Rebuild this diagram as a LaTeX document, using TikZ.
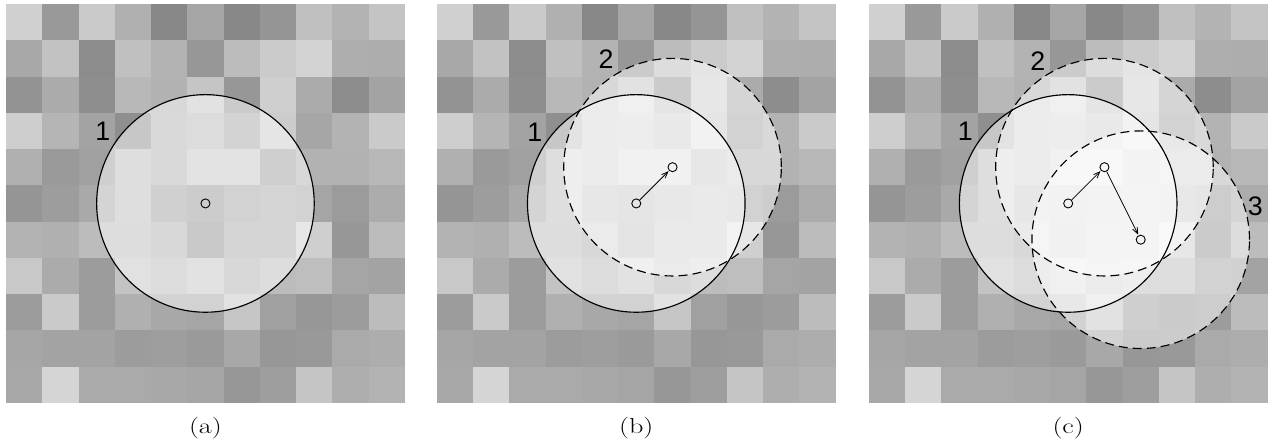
\documentclass[tikz,border=0pt]{standalone}
\usepackage{fontspec}
\newfontfamily\labelfont{Liberation Sans}
\usetikzlibrary{arrows.meta,positioning}

%% window styles
\tikzset{
  winfill/.style={fill=white,fill opacity=0.5},
  winsolid/.style={draw=black,line width=0.9pt},
  windash/.style={draw=black,line width=0.9pt,dash pattern=on 7pt off 4pt},
  centre/.style={circle,draw=black,line width=0.7pt,minimum size=0.25cm,inner sep=0pt},
  meanshift/.style={-{Straight Barb[length=5pt,width=4pt]},line width=0.6pt,shorten >=0.5pt},
  winlabel/.style={font=\labelfont\fontsize{21}{25}\selectfont},
  caption/.style={font=\fontsize{17}{20}\selectfont,xscale=1.3,transform shape}
}

%% 11x11 grey image, one row per entry, top row first
\newcommand\pixgrid{%
  \foreach \row [count=\r from 0] in {
    {208,153,202,176,135,165,136,149,192,179,196},
    {168,194,140,192,179,151,188,203,211,174,173},
    {147,171,142,184,178,197,151,207,171,141,163},
    {206,181,163,143,179,185,167,204,166,179,202},
    {176,154,160,189,179,199,199,159,178,178,184},
    {149,157,169,189,161,153,165,171,165,155,172},
    {179,176,188,187,177,147,171,171,207,151,188},
    {200,171,156,195,185,197,177,188,190,165,163},
    {156,202,156,176,168,165,198,160,151,156,188},
    {166,163,163,156,158,154,168,151,153,170,173},
    {168,213,170,170,168,165,151,158,197,174,179}}{
    \foreach \g [count=\c from 0] in \row {
      \definecolor{pix}{RGB}{\g,\g,\g}
      \fill[pix] (\c,10-\r) rectangle ++(1,1);
    }
  }%
}

\begin{document}
\begin{tikzpicture}
  \useasboundingbox (-0.165,-1.16) rectangle (34.8,11.11);

  %% (a) first window
  \begin{scope}
    \pixgrid
    \fill[winfill] (5.5,5.5) circle (3);
    \draw[winsolid] (5.5,5.5) circle (3);
    \node[centre] (a-c1) at (5.5,5.5) {};
    \node[winlabel] (a-l1) at (2.67,7.48) {1};
    \node[caption] (a-cap) at (5.5,-0.69) {(a)};
  \end{scope}

  %% (b) one shift
  \begin{scope}[xshift=11.88cm]
    \pixgrid
    \fill[winfill] (5.5,5.5) circle (3);
    \fill[winfill] (6.5,6.5) circle (3);
    \draw[winsolid] (5.5,5.5) circle (3);
    \draw[windash] (6.5,6.5) circle (3);
    \node[centre] (b-c1) at (5.5,5.5) {};
    \node[centre] (b-c2) at (6.5,6.5) {};
    \draw[meanshift] (b-c1) -- (b-c2);
    \node[winlabel] (b-l1) at (2.70,7.46) {1};
    \node[winlabel] (b-l2) at (4.67,9.48) {2};
    \node[caption] (b-cap) at (5.5,-0.69) {(b)};
  \end{scope}

  %% (c) two shifts
  \begin{scope}[xshift=23.79cm]
    \pixgrid
    \fill[winfill] (5.5,5.5) circle (3);
    \fill[winfill] (6.5,6.5) circle (3);
    \fill[winfill] (7.5,4.5) circle (3);
    \draw[winsolid] (5.5,5.5) circle (3);
    \draw[windash] (6.5,6.5) circle (3);
    \draw[windash] (7.5,4.5) circle (3);
    \node[centre] (c-c1) at (5.5,5.5) {};
    \node[centre] (c-c2) at (6.5,6.5) {};
    \node[centre] (c-c3) at (7.5,4.5) {};
    \draw[meanshift] (c-c1) -- (c-c2);
    \draw[meanshift] (c-c2) -- (c-c3);
    \node[winlabel] (c-l1) at (2.66,7.48) {1};
    \node[winlabel] (c-l2) at (4.66,9.43) {2};
    \node[winlabel] (c-l3) at (10.66,5.43) {3};
    \node[caption] (c-cap) at (5.5,-0.69) {(c)};
  \end{scope}
\end{tikzpicture}
\end{document}
